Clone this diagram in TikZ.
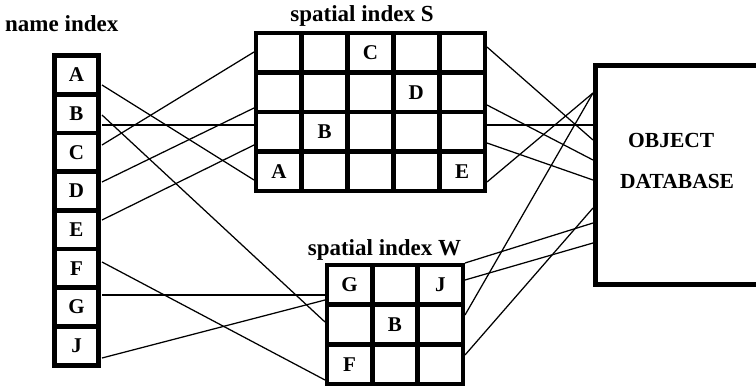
\documentclass[tikz,border=0pt]{standalone}
\usepackage{fontspec}
\setmainfont{Liberation Serif}
\begin{document}
\begin{tikzpicture}[x=1pt,y=-1pt,
  cellbox/.style={draw, line width=4.8pt, inner sep=0pt, minimum width=#1,
    font=\bfseries\fontsize{21}{21}\selectfont},
  title/.style={inner sep=0pt, anchor=base, font=\bfseries\fontsize{23}{23}\selectfont},
  dbtext/.style={inner sep=0pt, anchor=base west, font=\bfseries\fontsize{21.5}{21.5}\selectfont},
  conn/.style={line width=1.25pt}]
\clip (0,0) rectangle (756,386);
\fill[white] (0,0) rectangle (756,386);

% name index
\node[title, anchor=base west] (tname) at (5,31) {name index};
\foreach \t [count=\k] in {A,B,C,D,E,F,G,J}
  \node[cellbox=44pt, minimum height=38.7pt] (n\t) at (76.5,{55.5+38.7*(\k-0.5)}) {\t};

% spatial index S
\node[title] (tS) at (362,21) {spatial index S};
\foreach \r/\c/\t in {1/1/{},1/2/{},1/3/C,1/4/{},1/5/{},
                      2/1/{},2/2/{},2/3/{},2/4/D,2/5/{},
                      3/1/{},3/2/B,3/3/{},3/4/{},3/5/{},
                      4/1/A,4/2/{},4/3/{},4/4/{},4/5/E}
  \node[cellbox=45.8pt, minimum height=39.5pt] (s\r\c) at ({256+45.8*(\c-0.5)},{33+39.5*(\r-0.5)}) {\t};

% spatial index W
\node[title] (tW) at (384.5,255) {spatial index W};
\foreach \r/\c/\t in {1/1/G,1/2/{},1/3/J,
                      2/1/{},2/2/B,2/3/{},
                      3/1/F,3/2/{},3/3/{}}
  \node[cellbox=45.3pt, minimum height=39.7pt] (w\r\c) at ({327+45.3*(\c-0.5)},{265+39.7*(\r-0.5)}) {\t};

% object database
\draw[line width=5pt] (770,65) -- (595.5,65) -- (595.5,284.5) -- (770,284.5);
\node[dbtext] (obj) at (628,147) {OBJECT};
\node[dbtext] (dbt) at (620,188) {DATABASE};

% attachment points: name index
\coordinate (aA) at (102,85);
\coordinate (aB1) at (102,115);
\coordinate (aB2) at (102,125);
\coordinate (aC) at (102,145);
\coordinate (aD) at (102,182);
\coordinate (aE) at (102,220);
\coordinate (aF) at (102,262);
\coordinate (aG) at (102,295);
\coordinate (aJ) at (102,358);
% S left
\coordinate (sl1) at (254,52);
\coordinate (sl2) at (254,108);
\coordinate (sl3) at (254,125);
\coordinate (sl4) at (254,145);
\coordinate (sl5) at (254,180);
% S right
\coordinate (sr1) at (487,47);
\coordinate (sr2) at (487,105);
\coordinate (sr3) at (487,125);
\coordinate (sr4) at (487,143);
\coordinate (sr5) at (487,182);
% W left
\coordinate (wl1) at (325,295);
\coordinate (wl2) at (325,300);
\coordinate (wl3) at (325,322);
\coordinate (wl4) at (325,380);
% W right
\coordinate (wr1) at (465,263);
\coordinate (wr2) at (465,280);
\coordinate (wr3) at (465,315);
\coordinate (wr4) at (465,355);
% DB left
\coordinate (d1) at (593,93);
\coordinate (d2) at (593,125);
\coordinate (d3) at (593,140);
\coordinate (d4) at (593,160);
\coordinate (d5) at (593,180);
\coordinate (d6) at (593,208);
\coordinate (d7) at (593,223);
\coordinate (d8) at (593,243);

% connectors name -> S
\draw[conn] (aA) -- (sl5);
\draw[conn] (aB2) -- (sl3);
\draw[conn] (aC) -- (sl1);
\draw[conn] (aD) -- (sl2);
\draw[conn] (aE) -- (sl4);
% name -> W
\draw[conn] (aB1) -- (wl3);
\draw[conn] (aF) -- (wl4);
\draw[conn] (aG) -- (wl1);
\draw[conn] (aJ) -- (wl2);
% S -> DB
\draw[conn] (sr1) -- (d3);
\draw[conn] (sr2) -- (d4);
\draw[conn] (sr3) -- (d2);
\draw[conn] (sr4) -- (d5);
\draw[conn] (sr5) -- (d1);
% W -> DB
\draw[conn] (wr1) -- (d7);
\draw[conn] (wr2) -- (d8);
\draw[conn] (wr3) -- (d1);
\draw[conn] (wr4) -- (d6);
\end{tikzpicture}
\end{document}
